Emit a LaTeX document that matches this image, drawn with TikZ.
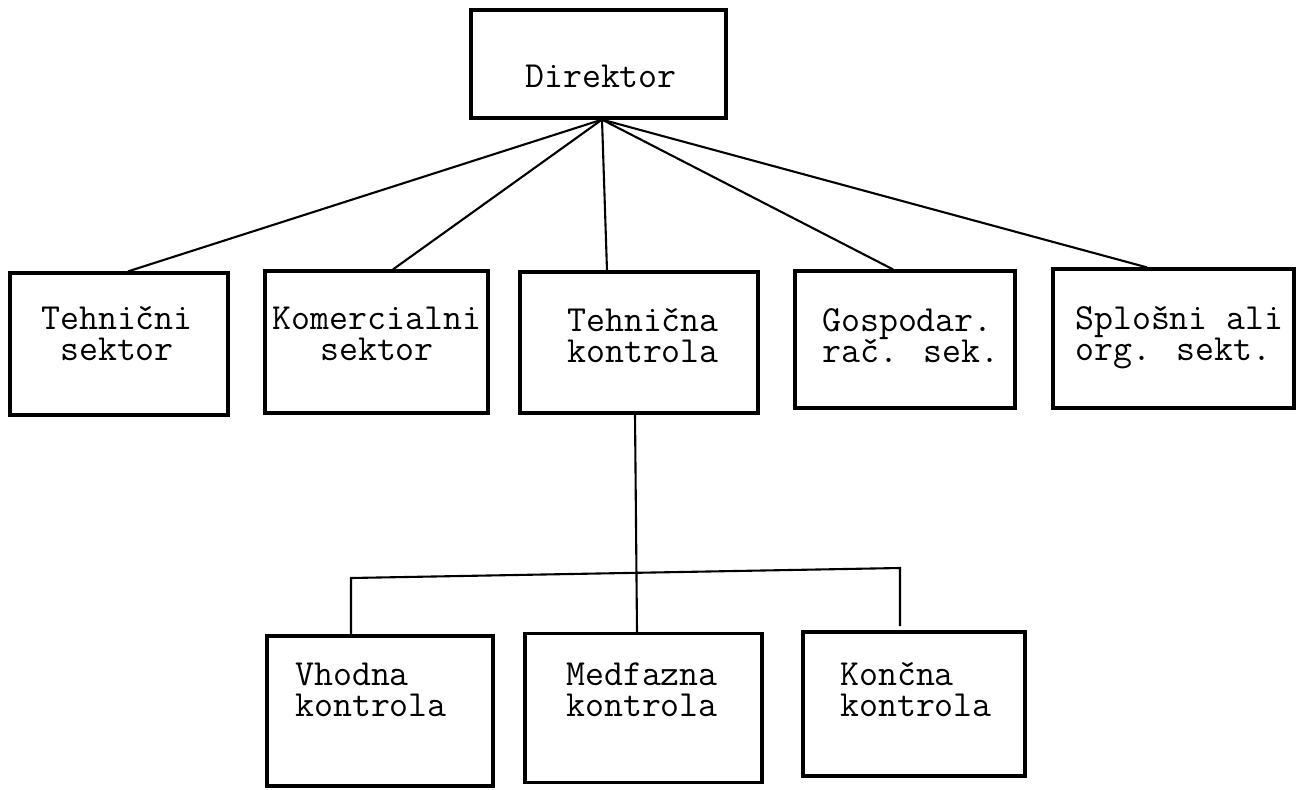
\documentclass[tikz,border=0pt]{standalone}
\newcommand\tyw{\fontsize{36.8pt}{31pt}\selectfont\ttfamily\lineskiplimit=-20pt}
\newcommand\twol[2]{\vtop{\hbox{#1}\hbox{#2}}}
\newcommand\twoc[2]{\vtop{\halign{\hfil##\hfil\cr #1\cr #2\cr}}}
\begin{document}
\begin{tikzpicture}[x=1pt,y=-1pt,
  box/.style={draw,line width=3.2pt,inner sep=0pt},
  conn/.style={line width=2.1pt},
  lblc/.style={inner sep=0pt,anchor=base,font=\tyw},
  lbl/.style={inner sep=0pt,anchor=base west,font=\tyw}]
\useasboundingbox[fill=white] (0,0) rectangle (1305,789);
% boxes
\node[box,minimum width=255pt,minimum height=108pt] (dir) at (598.5,64) {};
\node[box,minimum width=218pt,minimum height=142pt] (s1) at (119,344) {};
\node[box,minimum width=223pt,minimum height=142pt] (s2) at (376.5,342) {};
\node[box,minimum width=238pt,minimum height=141pt] (s3) at (639,342.5) {};
\node[box,minimum width=220pt,minimum height=137pt] (s4) at (905,339.5) {};
\node[box,minimum width=241pt,minimum height=139pt] (s5) at (1173.5,338.5) {};
\node[box,minimum width=226pt,minimum height=150pt] (b1) at (380,711) {};
\node[box,minimum width=237pt,minimum height=149pt] (b2) at (643.5,708) {};
\node[box,minimum width=222pt,minimum height=144pt] (b3) at (914,704) {};
% texts
\node[lbl] (tdir) at (525,88) {Direktor};
\node[lblc] (t1) at (117,329) {\twoc{Tehnični}{sektor}};
\node[lblc] (t2) at (377,329) {\twoc{Komercialni}{sektor}};
\node[lbl] (t3) at (567,331) {\twol{Tehnična}{kontrola}};
\node[lbl] (t4) at (822,331) {\twol{Gospodar.}{rač. sek.}};
\node[lbl] (t5) at (1075,329) {\twol{Splošni ali}{org. sekt.}};
\node[lbl] (u1) at (295,685) {\twol{Vhodna}{kontrola}};
\node[lbl] (u2) at (566,685) {\twol{Medfazna}{kontrola}};
\node[lbl] (u3) at (840,685) {\twol{Končna}{kontrola}};
% connectors
\coordinate (dj) at ([xshift=3.5pt]dir.south);
\draw[conn] (dj) -- ([xshift=9pt]s1.north);
\draw[conn] (dj) -- ([xshift=16.5pt]s2.north);
\draw[conn] (dj) -- ([xshift=-32pt]s3.north);
\draw[conn] (dj) -- ([xshift=-12pt]s4.north);
\draw[conn] (dj) -- ([xshift=-26.5pt]s5.north);
\draw[conn] ([xshift=-4pt]s3.south) -- ([xshift=-6.5pt]b2.north);
\coordinate (hl) at (351,578);
\coordinate (hr) at (900,568);
\coordinate (hre) at (900,626);
\draw[conn] (b1.north -| hl) -- (hl) -- (hr) -- (hre);
\end{tikzpicture}
\end{document}
